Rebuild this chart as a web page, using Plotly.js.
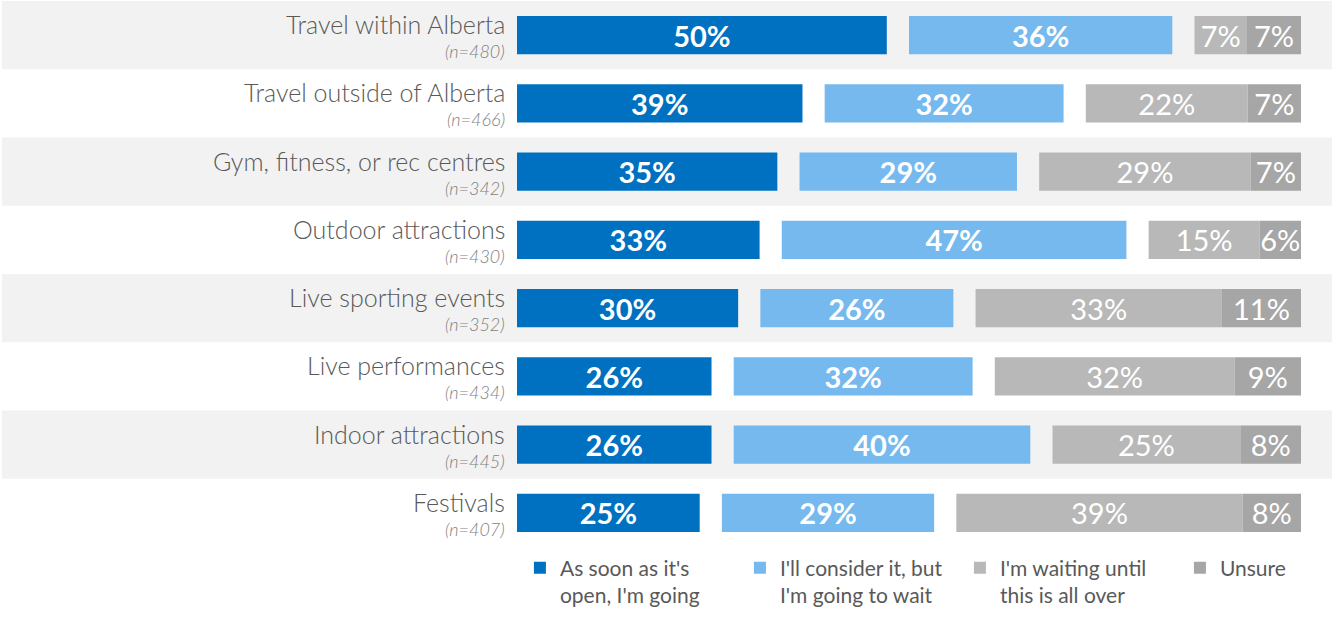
<!DOCTYPE html>
<html>
<head>
<meta charset="utf-8">
<script src="https://cdn.plot.ly/plotly-3.0.1.min.js"></script>
<style>
  html, body { margin: 0; padding: 0; background: #ffffff; }
  #chart { width: 1332px; height: 618px; }
</style>
</head>
<body>
<div id="chart"></div>
<script>
// ---- Data ----
const categories = [
  'Travel within Alberta',
  'Travel outside of Alberta',
  'Gym, fitness, or rec centres',
  'Outdoor attractions',
  'Live sporting events',
  'Live performances',
  'Indoor attractions',
  'Festivals'
];
const sampleSizes = [480, 466, 342, 430, 352, 434, 445, 407];

const soonValues     = [50.0, 38.6, 35.2, 32.8, 29.9, 26.3, 26.3, 24.7];
const considerValues = [35.6, 32.3, 29.4, 46.6, 26.1, 32.3, 40.1, 28.7];
const waitingValues  = [7.1, 21.9, 28.6, 15.0, 33.3, 32.4, 25.4, 38.7];
const unsureValues   = [7.3, 7.2, 6.8, 5.6, 10.7, 9.0, 8.2, 7.9];

const seriesNames = [
  "As soon as it's<br>open, I'm going",
  "I'll consider it, but<br>I'm going to wait",
  "I'm waiting until<br>this is all over",
  "Unsure"
];

// ---- Style ----
const GAP = 3; // visual gap between segments, in axis units
const colors = ['#0070c0', '#75b9ee', '#b8b8b8', '#a6a6a6'];
const FONT = 'Lato, "Open Sans", "DejaVu Sans", sans-serif';

const label = v => Math.round(v) + '%';

const baseSoon = soonValues.map(() => 0);
const baseConsider = soonValues.map((v) => v + GAP);
const baseWaiting = soonValues.map((v, i) => v + considerValues[i] + 2 * GAP);
const baseUnsure = baseWaiting.map((b, i) => b + waitingValues[i]);

function barTrace(name, values, base, color, bold) {
  return {
    type: 'bar',
    orientation: 'h',
    name: name,
    y: categories,
    x: values,
    base: base,
    text: values.map(label),
    textposition: 'inside',
    insidetextanchor: 'middle',
    textangle: 0,
    constraintext: 'none',
    textfont: { family: FONT, size: 29, color: '#ffffff', weight: bold ? 700 : 400 },
    marker: { color: color, line: { width: 0 } },
    hoverinfo: 'skip'
  };
}

const traces = [
  barTrace(seriesNames[0], soonValues, baseSoon, colors[0], true),
  barTrace(seriesNames[1], considerValues, baseConsider, colors[1], true),
  barTrace(seriesNames[2], waitingValues, baseWaiting, colors[2], false),
  barTrace(seriesNames[3], unsureValues, baseUnsure, colors[3], false)
];

const shapes = [];
const annotations = [];
categories.forEach((c, i) => {
  if (i % 2 === 0) {
    shapes.push({
      type: 'rect', layer: 'below',
      xref: 'paper', yref: 'y',
      x0: -0.657, x1: 1.045,
      y0: i - 0.5, y1: i + 0.5,
      fillcolor: '#f2f2f2', line: { width: 0 }
    });
  }
  annotations.push({
    xref: 'paper', yref: 'y',
    x: -0.0128, y: c,
    xanchor: 'right', yanchor: 'middle',
    yshift: 11,
    showarrow: false,
    text: c,
    font: { family: FONT, size: 25, color: '#595959', weight: 300 }
  });
  annotations.push({
    xref: 'paper', yref: 'y',
    x: -0.0128, y: c,
    xanchor: 'right', yanchor: 'middle',
    yshift: -16,
    showarrow: false,
    text: '<i>(n=' + sampleSizes[i] + ')</i>',
    font: { family: FONT, size: 18, color: '#7f7f7f', weight: 300 }
  });
});

const layout = {
  width: 1332,
  height: 618,
  margin: { l: 517, r: 31, t: 1, b: 71, pad: 0, autoexpand: false },
  paper_bgcolor: '#ffffff',
  plot_bgcolor: 'rgba(0,0,0,0)',
  barmode: 'overlay',
  bargap: 0.44,
  showlegend: true,
  font: { family: FONT, color: '#595959' },
  xaxis: {
    range: [0, 100 + 2 * GAP],
    visible: false,
    showgrid: false,
    zeroline: false,
    fixedrange: true
  },
  yaxis: {
    type: 'category',
    autorange: 'reversed',
    showticklabels: false,
    ticks: '',
    showgrid: false,
    zeroline: false,
    showline: false,
    fixedrange: true
  },
  legend: {
    orientation: 'h',
    x: -0.0001,
    xanchor: 'left',
    y: -0.001,
    yanchor: 'top',
    valign: 'top',
    indentation: 3,
    traceorder: 'normal',
    entrywidth: 172,
    entrywidthmode: 'pixels',
    font: { family: FONT, size: 21, color: '#595959' },
    bgcolor: 'rgba(0,0,0,0)'
  },
  shapes: shapes,
  annotations: annotations
};

Plotly.newPlot('chart', traces, layout, { displayModeBar: false, staticPlot: true });
</script>
</body>
</html>
